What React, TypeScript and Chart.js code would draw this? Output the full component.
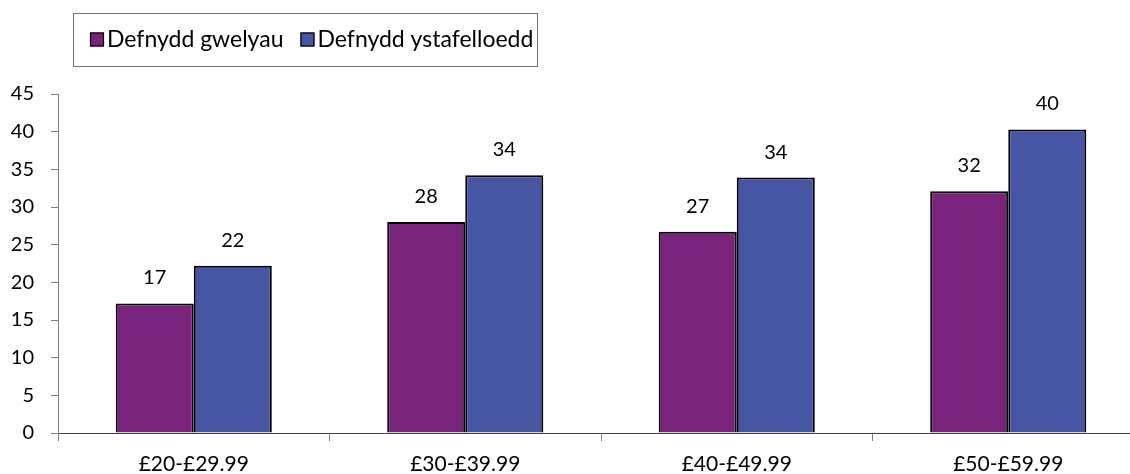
import React, { useEffect, useRef } from "react";
import { Chart, registerables } from "chart.js";

Chart.register(...registerables);

const categories = ["£20-£29.99", "£30-£39.99", "£40-£49.99", "£50-£59.99"];
const seriesNames = ["Defnydd gwelyau", "Defnydd ystafelloedd"];
const bedValues = [17.2, 28.0, 26.7, 32.1];
const roomValues = [22.2, 34.2, 33.9, 40.3];
const seriesColors = ["#7A237D", "#4755A5"];
const yTicks = { min: 0, max: 45, step: 5 };

const FONT = "Lato";

const dataLabelPlugin = {
  id: "dataLabels",
  afterDatasetsDraw(chart: any) {
    const ctx = chart.ctx;
    ctx.save();
    ctx.font = `20px ${FONT}`;
    ctx.fillStyle = "#000";
    ctx.textAlign = "center";
    ctx.textBaseline = "alphabetic";
    chart.data.datasets.forEach((ds: any, i: number) => {
      const meta = chart.getDatasetMeta(i);
      meta.data.forEach((el: any, j: number) => {
        ctx.fillText(String(Math.round(ds.data[j])), el.x, el.y - 19);
      });
    });
    ctx.restore();
  },
};

const legendBoxPlugin = {
  id: "legendBox",
  afterDraw(chart: any) {
    const ctx = chart.ctx;
    ctx.save();
    ctx.strokeStyle = "#6e6e6e";
    ctx.lineWidth = 1;
    ctx.strokeRect(73.5, 13.5, 464, 53);
    ctx.font = `23px ${FONT}`;
    ctx.textBaseline = "alphabetic";
    ctx.textAlign = "left";
    let x = 90;
    chart.data.datasets.forEach((ds: any) => {
      ctx.fillStyle = ds.backgroundColor;
      ctx.fillRect(x, 32.5, 14, 14);
      ctx.strokeStyle = "#000";
      ctx.lineWidth = 1.2;
      ctx.strokeRect(x + 0.5, 33, 13, 13);
      ctx.fillStyle = "#000";
      ctx.fillText(ds.label, x + 17, 47);
      const w = ctx.measureText(ds.label).width;
      x = x + 17 + w + 17;
    });
    ctx.restore();
  },
};

export default function App() {
  const canvasRef = useRef<HTMLCanvasElement | null>(null);

  useEffect(() => {
    document.body.style.margin = "0";
    const canvas = canvasRef.current;
    if (!canvas) return;
    const chart = new Chart(canvas, {
      type: "bar",
      data: {
        labels: categories,
        datasets: [
          {
            label: seriesNames[0],
            data: bedValues,
            backgroundColor: seriesColors[0],
            borderColor: "#000",
            borderWidth: 2,
            categoryPercentage: 0.575,
            barPercentage: 1.0,
          },
          {
            label: seriesNames[1],
            data: roomValues,
            backgroundColor: seriesColors[1],
            borderColor: "#000",
            borderWidth: 2,
            categoryPercentage: 0.575,
            barPercentage: 1.0,
          },
        ],
      },
      options: {
        responsive: false,
        animation: false,
        devicePixelRatio: 1,
        layout: { padding: { top: 94, left: 0, right: 0, bottom: 0 } },
        plugins: {
          legend: { display: false },
          tooltip: { enabled: false },
          title: { display: false },
        },
        scales: {
          x: {
            offset: true,
            afterFit: (scale: any) => {
              scale.height = 41;
            },
            grid: {
              offset: true,
              drawOnChartArea: false,
              drawTicks: true,
              tickLength: 8,
              color: "#808080",
            },
            border: { display: true, color: "#404040", width: 1 },
            ticks: {
              color: "#000",
              font: { family: FONT, size: 21 },
              padding: 11,
              maxRotation: 0,
            },
          },
          y: {
            min: yTicks.min,
            max: yTicks.max,
            afterFit: (scale: any) => {
              scale.width = 58;
            },
            ticks: {
              stepSize: yTicks.step,
              color: "#000",
              font: { family: FONT, size: 20 },
              padding: 17,
            },
            grid: {
              drawOnChartArea: false,
              drawTicks: true,
              tickLength: 7,
              color: "#808080",
            },
            border: { display: true, color: "#808080", width: 1 },
          },
        },
      },
      plugins: [dataLabelPlugin, legendBoxPlugin],
    } as any);
    return () => chart.destroy();
  }, []);

  return (
    <div style={{ width: 1130, height: 474, overflow: "hidden", position: "relative" }}>
      <canvas ref={canvasRef} width={1144} height={474} style={{ display: "block" }} />
    </div>
  );
}
